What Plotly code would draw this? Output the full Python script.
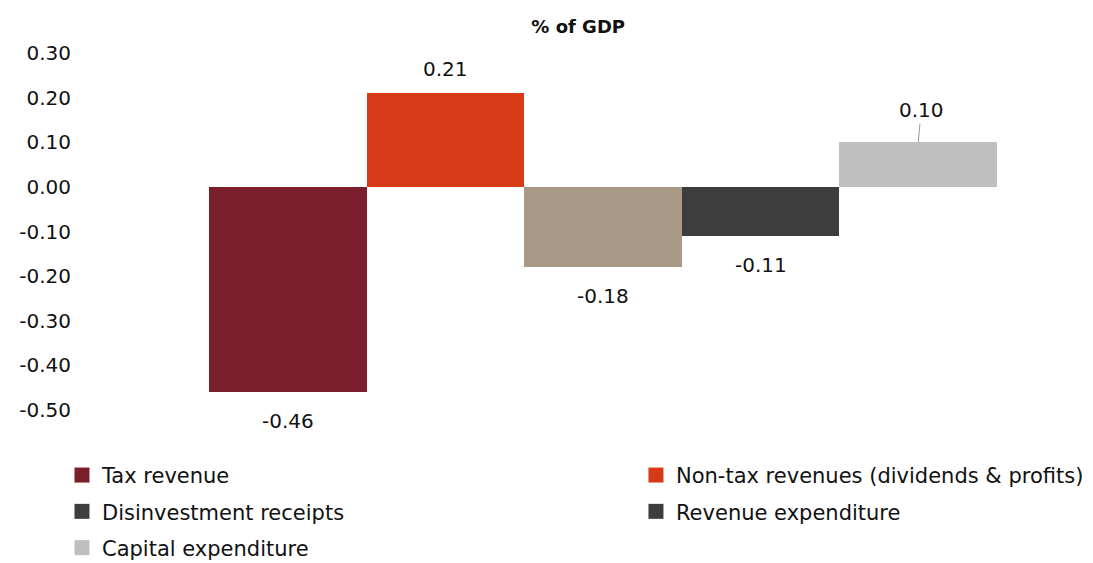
import plotly.graph_objects as go

categories = ["Tax revenue", "Non-tax revenues (dividends & profits)", "Disinvestment receipts",
              "Revenue expenditure", "Capital expenditure"]
values = [-0.46, 0.21, -0.18, -0.11, 0.10]
bar_colors = ["#7b1e2b", "#d63a17", "#a89a86", "#3d3d3d", "#bfbfbf"]
legend_colors = ["#7b1e2b", "#d63a17", "#3d3d3d", "#3d3d3d", "#bfbfbf"]
legend_columns = ["legend", "legend2", "legend", "legend2", "legend"]
y_ticks = [0.30, 0.20, 0.10, 0.00, -0.10, -0.20, -0.30, -0.40, -0.50]

FONT = "DejaVu Sans, sans-serif"
TXT = "#111111"
fig = go.Figure()

for i, (cat, val, col) in enumerate(zip(categories, values, bar_colors)):
    leader = i == len(categories) - 1
    fig.add_trace(go.Bar(
        x=[i], y=[val], name=cat, marker_color=col, marker_line_width=0,
        showlegend=False, width=1, hoverinfo="skip",
    ))
    if leader:
        fig.add_annotation(x=i, y=val, text=f"{val:.2f}", showarrow=True, arrowhead=0,
                           arrowwidth=1, arrowcolor="#999999", ax=3, ay=-32, standoff=0,
                           font=dict(size=20, color=TXT, family=FONT))
    else:
        fig.add_annotation(x=i, y=val, text=f"{val:.2f}", showarrow=False,
                           yanchor="middle", yshift=24 if val > 0 else -29,
                           font=dict(size=20, color=TXT, family=FONT))

for j, (cat, col, lg) in enumerate(zip(categories, legend_colors, legend_columns)):
    fig.add_trace(go.Scatter(x=[None], y=[None], name=cat, mode="markers",
                             marker=dict(symbol="square", size=15, color=col),
                             showlegend=True, legend=lg, legendgroup=f"g{j}",
                             hoverinfo="skip"))

leg_common = dict(orientation="v", xanchor="left", yanchor="top", yref="container",
                  y=0.192, traceorder="grouped", tracegroupgap=6,
                  font=dict(size=21, family=FONT, color=TXT), itemclick=False,
                  itemdoubleclick=False, bgcolor="rgba(0,0,0,0)")

fig.update_layout(
    width=1093, height=563,
    margin=dict(l=72, r=20, t=53, b=153, autoexpand=False),
    paper_bgcolor="white", plot_bgcolor="white",
    bargap=0, barmode="overlay",
    font=dict(family=FONT, size=20, color=TXT),
    title=dict(text="<b>% of GDP</b>", x=0.529, xanchor="center", y=0.952, yanchor="middle",
               font=dict(size=18, family=FONT, color=TXT)),
    xaxis=dict(range=[-0.5 - 0.869, 4.5 + 0.482], showticklabels=False, showgrid=False,
               zeroline=False, showline=False),
    yaxis=dict(range=[-0.5, 0.3], tickvals=y_ticks, ticktext=[f"{v:.2f}" for v in y_ticks],
               showgrid=False, zeroline=False, showline=False, ticks="",
               tickfont=dict(size=20, family=FONT, color=TXT)),
    legend=dict(x=-0.01, **leg_common),
    legend2=dict(x=0.5634, **leg_common),
)

fig.write_html("out.html")
